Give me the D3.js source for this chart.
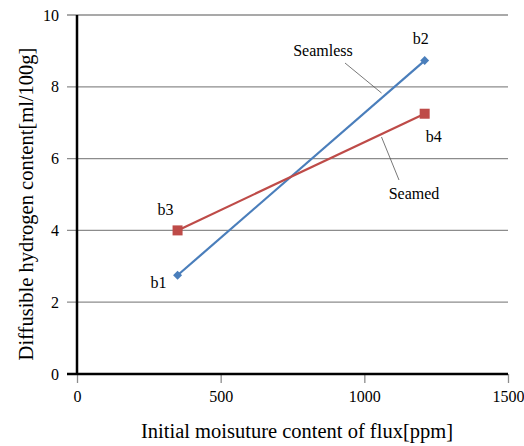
<!DOCTYPE html>
<html>
<head>
<meta charset="utf-8">
<script src="https://cdn.jsdelivr.net/npm/d3@7"></script>
<style>
  body { margin: 0; background: #fff; }
  text { fill: #000; }
</style>
</head>
<body>
<svg id="chart"></svg>
<script>
const seamless = [
  { label: "b1", x: 350, y: 2.75 },
  { label: "b2", x: 1210, y: 8.73 }
];
const seamed = [
  { label: "b3", x: 350, y: 4.0 },
  { label: "b4", x: 1210, y: 7.25 }
];
const xTicks = [0, 500, 1000, 1500];
const yTicks = [0, 2, 4, 6, 8, 10];

const font = "'Liberation Serif', 'Times New Roman', Times, serif";
const width = 524, height = 446;
const margin = { top: 15, right: 16, bottom: 72, left: 77 };
const w = width - margin.left - margin.right;
const h = height - margin.top - margin.bottom;

const svg = d3.select("#chart")
  .attr("width", width)
  .attr("height", height)
  .append("g")
  .attr("font-family", font)
  .attr("transform", `translate(${margin.left},${margin.top})`);

const x = d3.scaleLinear().domain([0, 1500]).range([0, w]);
const y = d3.scaleLinear().domain([0, 10]).range([h, 0]);

// grid lines
svg.append("g")
  .selectAll("line")
  .data(yTicks.filter(d => d > 0))
  .enter()
  .append("line")
  .attr("x1", -10)
  .attr("x2", w)
  .attr("y1", d => y(d))
  .attr("y2", d => y(d))
  .attr("stroke", "#8c8c8c")
  .attr("stroke-width", 1.3);

// X axis
const xAxis = svg.append("g")
  .attr("transform", `translate(0,${h})`)
  .call(d3.axisBottom(x).tickValues(xTicks).tickFormat(d3.format("d"))
    .tickSize(9).tickSizeOuter(0).tickPadding(8));
xAxis.attr("font-family", font).attr("font-size", 16);
xAxis.select("path").remove();
xAxis.selectAll("line").attr("stroke", "#8c8c8c").attr("stroke-width", 1.3);
xAxis.append("line")
  .attr("x1", -10).attr("x2", w)
  .attr("stroke", "#000").attr("stroke-width", 2.5);

// Y axis
const yAxis = svg.append("g")
  .call(d3.axisLeft(y).tickValues(yTicks).tickSize(0).tickPadding(18));
yAxis.attr("font-family", font).attr("font-size", 16);
yAxis.select("path").remove();
yAxis.append("line")
  .attr("y1", 0).attr("y2", h + 1)
  .attr("stroke", "#000").attr("stroke-width", 2.5);

// series
const line = d3.line().x(d => x(d.x)).y(d => y(d.y));

svg.append("path")
  .datum(seamless)
  .attr("d", line)
  .attr("fill", "none")
  .attr("stroke", "#4a7ebb")
  .attr("stroke-width", 2.2);

svg.append("path")
  .datum(seamed)
  .attr("d", line)
  .attr("fill", "none")
  .attr("stroke", "#be4b48")
  .attr("stroke-width", 2.2);

svg.selectAll(".diamond")
  .data(seamless)
  .enter()
  .append("path")
  .attr("d", d3.symbol().type(d3.symbolSquare).size(40))
  .attr("transform", d => `translate(${x(d.x)},${y(d.y)}) rotate(45)`)
  .attr("fill", "#4a7ebb");

svg.selectAll(".square")
  .data(seamed)
  .enter()
  .append("rect")
  .attr("x", d => x(d.x) - 5)
  .attr("y", d => y(d.y) - 5)
  .attr("width", 10)
  .attr("height", 10)
  .attr("fill", "#be4b48");

// point labels
const pointLabels = [
  { d: seamless[0], dx: -19, dy: 13 },
  { d: seamless[1], dx: -4, dy: -17 },
  { d: seamed[0], dx: -12, dy: -15 },
  { d: seamed[1], dx: 9, dy: 28 }
];
svg.selectAll(".plabel")
  .data(pointLabels)
  .enter()
  .append("text")
  .attr("x", p => x(p.d.x) + p.dx)
  .attr("y", p => y(p.d.y) + p.dy)
  .attr("text-anchor", "middle")
  .attr("font-size", 16)
  .text(p => p.d.label);

// series labels with leader lines
svg.append("line")
  .attr("x1", 268).attr("y1", 48).attr("x2", 304.5).attr("y2", 78)
  .attr("stroke", "#555").attr("stroke-width", 0.8);
svg.append("text")
  .attr("x", 246).attr("y", 41)
  .attr("text-anchor", "middle")
  .attr("font-size", 16)
  .text("Seamless");

svg.append("line")
  .attr("x1", 304.5).attr("y1", 122).attr("x2", 322).attr("y2", 165)
  .attr("stroke", "#555").attr("stroke-width", 0.8);
svg.append("text")
  .attr("x", 337).attr("y", 184)
  .attr("text-anchor", "middle")
  .attr("font-size", 16)
  .text("Seamed");

// axis titles
svg.append("text")
  .attr("x", 297 - margin.left)
  .attr("y", 438 - margin.top)
  .attr("text-anchor", "middle")
  .attr("font-size", 20.5)
  .text("Initial moisuture content of flux[ppm]");

svg.append("text")
  .attr("transform", `translate(${33 - margin.left},${204 - margin.top}) rotate(-90)`)
  .attr("text-anchor", "middle")
  .attr("font-size", 20.5)
  .text("Diffusible hydrogen content[ml/100g]");
</script>
</body>
</html>
